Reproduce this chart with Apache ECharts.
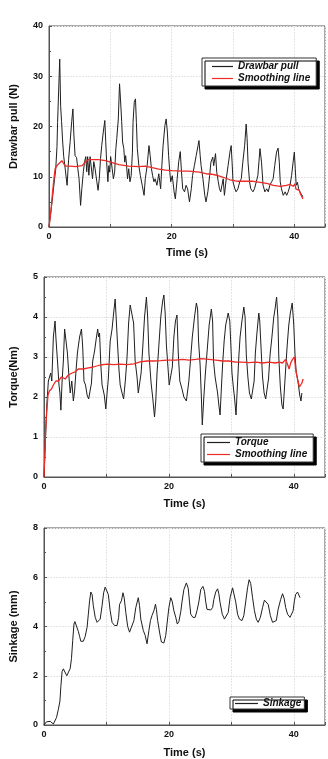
<!DOCTYPE html>
<html>
<head>
<meta charset="utf-8">
<script src="https://cdn.jsdelivr.net/npm/echarts@6/dist/echarts.min.js"></script>
<style>
html, body { margin: 0; padding: 0; background: #fff; }
#chart { width: 328px; height: 759px; }
</style>
</head>
<body>
<div id="chart"></div>
<script>
// drawbar pull (N) vs time (s)
var pullTime = [0, 0.5, 0.9, 1.1, 1.3, 1.4, 1.55, 1.75, 1.9, 2.05, 2.2, 2.4, 2.65, 2.95, 3.2, 3.45, 3.7, 3.9, 4.05, 4.25,
    4.5, 4.7, 4.9, 5.15, 5.35, 5.6, 5.8, 6.0, 6.15, 6.3, 6.5, 6.7, 6.9, 7.1, 7.3, 7.5, 7.8, 8.0, 8.2, 8.4,
    8.6, 8.85, 9.1, 9.25, 9.4, 9.6, 9.75, 9.9, 10.05, 10.3, 10.5, 10.7, 10.9, 11.05, 11.3, 11.5, 11.65, 11.85, 12.0, 12.2,
    12.35, 12.5, 12.65, 12.8, 13.0, 13.2, 13.4, 13.6, 13.7, 13.9, 14.1, 14.25, 14.4, 14.65, 14.9, 15.2, 15.5, 15.7, 16.0, 16.3,
    16.5, 16.7, 16.9, 17.1, 17.3, 17.6, 17.9, 18.2, 18.4, 18.6, 18.9, 19.1, 19.3, 19.5, 19.7, 19.85, 20.1, 20.4, 20.6, 20.9,
    21.15, 21.4, 21.6, 21.8, 22.1, 22.35, 22.6, 22.9, 23.2, 23.4, 23.7, 24.0, 24.3, 24.45, 24.65, 24.8, 25.1, 25.4, 25.6, 25.9,
    26.2, 26.4, 26.7, 26.85, 27.15, 27.35, 27.6, 27.8, 28.0, 28.2, 28.4, 28.6, 28.9, 29.2, 29.5, 29.7, 29.85, 30.0, 30.3, 30.5,
    30.8, 31.1, 31.35, 31.6, 31.9, 32.15, 32.3, 32.45, 32.7, 32.9, 33.25, 33.5, 33.8, 34.05, 34.4, 34.65, 34.9, 35.2, 35.5, 35.75,
    36.0, 36.3, 36.55, 36.8, 37.1, 37.35, 37.55, 37.7, 37.9, 38.2, 38.5, 38.75, 39.0, 39.3, 39.55, 39.8, 40.0, 40.15, 40.3, 40.5,
    40.7, 40.9, 41.1, 41.4];
var pullValue = [0, 5, 9.5, 11.5, 16, 20.8, 21, 33.4, 24, 21, 17.5, 14, 11.5, 8.3, 13.5, 17, 21, 23.5, 18.5, 14.2,
    13.8, 11.6, 9.6, 4.3, 7.6, 11, 13, 14, 11, 14, 10.3, 14, 14.3, 9.6, 13, 11.7, 9, 7.3, 9.6, 13.6,
    16.2, 18.9, 21.2, 17, 12.9, 9, 12.2, 10.9, 14, 11.6, 9.6, 10.9, 15.6, 17.6, 21.5, 28.5, 25.5, 21, 16.9, 15.6,
    12.9, 14.2, 12.2, 9.6, 11.6, 9, 10.2, 14.9, 20.8, 24.8, 25.5, 20.8, 15.6, 12.2, 10.2, 8.3, 6.3, 9.6, 12.2, 16.2,
    14.2, 11.6, 10.2, 9, 9.6, 8.3, 10.6, 7.6, 12.2, 16.2, 20.2, 21.5, 18.9, 14.2, 10.9, 9, 10.2, 7, 5.6, 9.6,
    13, 15, 11, 7.6, 7, 8.3, 7.6, 5, 7.6, 10.2, 12.2, 14.2, 16.2, 17.2, 14.2, 12.2, 9.6, 6.3, 5, 7,
    10.3, 12.9, 13.9, 12.2, 14.6, 10.9, 9, 7.6, 7, 8.3, 9.6, 6.3, 9.6, 12.2, 14.9, 16.2, 12.9, 9, 7.6, 7,
    7.6, 9, 9.6, 12.9, 16.2, 20.5, 17.6, 12.9, 9, 7.6, 7, 7.6, 9, 10.2, 15.6, 12.9, 8.3, 7, 7.6, 7,
    8.3, 9, 9.6, 12.2, 14.9, 15.7, 12.9, 9, 7.6, 6.3, 7, 6.3, 7, 8.3, 10.2, 12.9, 14.9, 11.6, 8.3, 8.9,
    7.6, 7, 6.6, 6.0];
var pullSmoothTime = [0, 0.3, 0.55, 0.75, 1.0, 1.3, 1.6, 2.1, 2.4, 2.7, 3.4, 4.3, 5.4, 5.9, 6.4, 7.0, 8.1, 9.2, 10.3, 11.4,
    13.0, 14.6, 15.7, 16.8, 17.9, 19.0, 20.1, 21.7, 22.9, 24.5, 25.6, 26.5, 27.3, 28.4, 29.5, 30.8, 32.2, 33.3, 34.4, 35.5,
    36.6, 37.7, 38.7, 39.3, 39.8, 40.1, 40.25, 40.5, 40.8, 41.0, 41.4];
var pullSmoothValue = [0, 3, 6.5, 9, 11.6, 12.2, 12.6, 13.2, 12.6, 12.1, 12.1, 12.0, 12.2, 12.9, 13.4, 13.4, 13.4, 13.2, 12.8, 12.4,
    12.1, 12.0, 12.1, 11.8, 11.5, 11.3, 11.2, 11.1, 11.1, 10.9, 10.6, 10.5, 10.3, 9.9, 9.4, 9.1, 9.1, 9.1, 8.9, 8.7,
    8.3, 8.1, 8.3, 8.5, 8.1, 8.6, 7.6, 7.9, 7.3, 6.6, 5.6];

// torque (Nm) vs time (s)
var torqueTime = [0, 0.2, 0.45, 0.7, 0.9, 1.07, 1.25, 1.5, 1.77, 1.9, 2.05, 2.2, 2.4, 2.55, 2.7, 2.9, 3.1, 3.3, 3.55, 3.75,
    4.0, 4.2, 4.45, 4.7, 4.9, 5.1, 5.35, 5.7, 6.0, 6.2, 6.4, 6.65, 6.9, 7.15, 7.4, 7.6, 7.8, 8.1, 8.4, 8.6,
    8.75, 8.9, 9.1, 9.3, 9.65, 9.9, 10.1, 10.3, 10.6, 10.9, 11.15, 11.4, 11.55, 11.75, 12.0, 12.2, 12.5, 12.75, 13.05, 13.3,
    13.55, 13.8, 14.1, 14.35, 14.6, 14.9, 15.1, 15.3, 15.55, 15.8, 16.1, 16.4, 16.6, 16.8, 17.15, 17.4, 17.7, 17.9, 18.1, 18.4,
    18.7, 19.0, 19.2, 19.4, 19.6, 19.85, 20.05, 20.3, 20.55, 20.8, 21.05, 21.3, 21.5, 21.75, 22.1, 22.4, 22.8, 23.2, 23.5, 23.75,
    24.1, 24.4, 24.6, 24.75, 25.0, 25.2, 25.35, 25.6, 25.85, 26.1, 26.45, 26.8, 27.0, 27.15, 27.4, 27.8, 28.0, 28.2, 28.4, 28.6,
    28.85, 29.1, 29.5, 29.75, 29.95, 30.1, 30.35, 30.5, 30.75, 30.95, 31.2, 31.4, 31.7, 32.0, 32.2, 32.4, 32.65, 32.9, 33.2, 33.45,
    33.65, 33.85, 34.1, 34.4, 34.55, 34.8, 35.0, 35.25, 35.5, 35.75, 35.95, 36.2, 36.5, 36.8, 37.0, 37.25, 37.45, 37.6, 37.85, 38.1,
    38.3, 38.5, 38.7, 38.95, 39.2, 39.45, 39.75, 40.0, 40.2, 40.4, 40.55, 40.75, 40.95, 41.15, 41.3];
var torqueValue = [0, 0.8, 1.8, 2.4, 2.45, 2.6, 2.4, 3.5, 3.9, 3.5, 3.5, 2.8, 2.3, 2.1, 1.67, 2.4, 2.9, 3.7, 3.75, 3.1,
    2.5, 2.1, 2.4, 1.9, 2.15, 2.6, 3.1, 3.5, 3.7, 3.25, 2.4, 2.3, 2.05, 1.95, 1.9, 2.35, 2.9, 3.15, 3.5, 3.7,
    3.5, 3.6, 2.8, 2.3, 2.05, 1.7, 2.1, 2.45, 3.4, 3.7, 4.1, 4.45, 4.0, 3.4, 2.7, 2.3, 2.1, 1.95, 2.45, 3.0,
    3.85, 4.3, 4.35, 3.85, 2.9, 2.5, 2.1, 2.05, 2.6, 3.2, 4.0, 4.5, 4.0, 3.1, 2.35, 2.0, 1.5, 1.9, 2.6, 3.3,
    4.0, 4.4, 4.55, 4.1, 3.3, 2.75, 2.3, 2.35, 2.75, 3.5, 3.9, 4.05, 3.1, 2.4, 2.2, 2.0, 1.9, 2.4, 3.0, 3.5,
    4.0, 4.35, 4.2, 3.4, 2.8, 2.0, 1.3, 2.0, 2.6, 3.1, 3.8, 4.2, 3.9, 2.9, 2.5, 2.1, 1.8, 1.55, 2.2, 2.8,
    3.4, 3.8, 4.1, 3.9, 3.2, 2.6, 2.2, 2.0, 1.55, 2.2, 3.0, 3.5, 3.9, 4.25, 4.0, 3.05, 2.5, 2.1, 1.95, 2.0,
    2.4, 3.1, 3.6, 4.1, 3.9, 3.1, 2.5, 2.1, 1.95, 2.0, 2.45, 3.05, 3.5, 4.0, 4.2, 4.5, 4.0, 3.0, 2.25, 1.8,
    1.7, 2.2, 2.7, 3.3, 3.8, 4.1, 4.35, 3.8, 3.05, 2.6, 2.5, 2.3, 2.05, 1.9, 2.1];
var torqueSmoothTime = [0, 0.1, 0.27, 0.43, 0.64, 0.86, 1.2, 1.5, 1.9, 2.3, 2.8, 3.4, 3.9, 4.5, 5.0, 5.5, 6.3, 7.1, 7.9, 9.0,
    10.1, 11.2, 12.2, 13.3, 14.4, 15.4, 16.5, 17.6, 18.7, 19.7, 21.1, 22.2, 23.2, 24.3, 25.3, 26.4, 27.5, 28.6, 29.6, 30.7,
    31.8, 32.8, 33.9, 35.0, 36.0, 37.1, 37.6, 38.2, 38.7, 39.0, 39.25, 39.55, 39.8, 40.1, 40.3, 40.6, 40.9, 41.1, 41.3, 41.5];
var torqueSmoothValue = [0, 0.45, 1.2, 1.6, 2.05, 2.15, 2.2, 2.3, 2.4, 2.4, 2.5, 2.45, 2.55, 2.6, 2.63, 2.7, 2.7, 2.73, 2.75, 2.8,
    2.82, 2.81, 2.82, 2.81, 2.83, 2.88, 2.9, 2.9, 2.91, 2.92, 2.92, 2.94, 2.92, 2.94, 2.96, 2.94, 2.92, 2.9, 2.9, 2.87,
    2.87, 2.86, 2.87, 2.85, 2.87, 2.85, 2.87, 2.85, 2.94, 2.82, 2.7, 2.87, 2.94, 3.0, 2.7, 2.45, 2.25, 2.2, 2.35, 2.45];

// sinkage (mm) vs time (s)
var sinkTime = [0, 0.4, 0.7, 1.0, 1.2, 1.5, 1.75, 2.0, 2.3, 2.55, 2.7, 2.9, 3.1, 3.35, 3.65, 3.95, 4.2, 4.4, 4.6, 4.8,
    4.95, 5.25, 5.5, 5.7, 5.9, 6.3, 6.6, 6.9, 7.1, 7.3, 7.5, 7.7, 7.9, 8.2, 8.5, 8.75, 9.0, 9.3, 9.55, 9.8,
    10.05, 10.3, 10.6, 10.9, 11.3, 11.7, 11.95, 12.1, 12.4, 12.65, 12.85, 13.1, 13.4, 13.7, 14.0, 14.4, 14.7, 15.1, 15.3, 15.5,
    15.9, 16.2, 16.5, 16.8, 17.05, 17.3, 17.6, 17.85, 18.0, 18.2, 18.55, 18.8, 19.2, 19.5, 19.7, 20.0, 20.3, 20.55, 20.8, 21.1,
    21.35, 21.6, 21.9, 22.1, 22.4, 22.8, 23.1, 23.3, 23.5, 23.85, 24.2, 24.5, 24.8, 25.1, 25.45, 25.7, 25.9, 26.1, 26.4, 26.7,
    27.0, 27.2, 27.5, 27.8, 28.0, 28.2, 28.55, 28.9, 29.2, 29.5, 29.8, 30.2, 30.5, 30.7, 31.0, 31.3, 31.7, 32.0, 32.3, 32.6,
    32.85, 33.1, 33.4, 33.7, 34.0, 34.3, 34.65, 35.0, 35.3, 35.6, 35.9, 36.25, 36.6, 36.9, 37.2, 37.5, 37.9, 38.2, 38.45, 38.7,
    39.0, 39.4, 39.7, 39.9, 40.1, 40.3, 40.6, 40.8, 41.0];
var sinkValue = [0, 0.13, 0.17, 0.15, 0.08, 0.04, 0.1, 0.3, 0.64, 0.97, 1.57, 2.17, 2.28, 2.2, 2.0, 2.05, 2.3, 2.7, 3.44, 4.1,
    4.2, 4.2, 3.8, 3.6, 3.4, 3.4, 3.6, 3.97, 4.5, 5.04, 5.4, 5.3, 4.84, 4.37, 4.17, 4.1, 4.3, 4.84, 5.37, 5.6,
    5.57, 5.3, 4.64, 4.17, 4.04, 4.04, 4.37, 4.9, 5.04, 5.37, 5.15, 4.57, 4.0, 3.77, 3.85, 4.24, 4.77, 5.17, 4.85, 4.3,
    3.84, 3.64, 3.3, 3.84, 4.24, 4.45, 4.64, 4.9, 4.7, 4.24, 3.7, 3.37, 3.33, 3.64, 4.1, 4.77, 5.17, 5.0, 4.64, 4.37,
    4.1, 4.2, 4.6, 5.0, 5.5, 5.77, 5.55, 5.0, 4.5, 4.37, 4.37, 4.64, 5.0, 5.5, 5.63, 5.43, 5.0, 4.7, 4.64, 4.67,
    4.77, 5.1, 5.4, 5.53, 5.33, 4.97, 4.5, 4.3, 4.3, 4.57, 5.17, 5.57, 5.5, 5.0, 4.5, 4.3, 4.24, 4.44, 5.0, 5.57,
    5.9, 5.75, 5.17, 4.64, 4.3, 4.17, 4.37, 4.77, 5.07, 5.15, 4.9, 4.44, 4.17, 4.1, 4.24, 4.7, 5.1, 5.33, 5.15, 4.77,
    4.5, 4.37, 4.44, 4.64, 5.04, 5.3, 5.4, 5.35, 5.17];

var font = 'Arial, "Liberation Sans", sans-serif';
var black = '#1f1f1f';
var red = '#ec2a26';

function pairs(t, v) {
    return t.map(function (x, i) { return [x, v[i]]; });
}

function xAxis(idx, gap) {
    return {
        type: 'value', gridIndex: idx, min: 0, max: 45, interval: 20,
        name: 'Time (s)', nameLocation: 'middle', nameGap: gap,
        nameTextStyle: { fontFamily: font, fontWeight: 'bold', fontSize: 11, color: '#111' },
        axisLine: { show: true, onZero: false, lineStyle: { color: '#555' } },
        axisTick: { inside: true, length: 3, lineStyle: { color: '#555' } },
        minorTick: { show: true, splitNumber: 2, length: 3, lineStyle: { color: '#555' } },
        axisLabel: { fontFamily: font, fontWeight: 'bold', fontSize: 9, color: '#111', margin: 5, showMaxLabel: false },
        splitLine: { show: true, lineStyle: { color: '#e4e4e4', type: [2, 1] } },
        minorSplitLine: { show: true, lineStyle: { color: '#e4e4e4', type: [2, 1] } }
    };
}

function yAxis(idx, max, interval, name, gap) {
    return {
        type: 'value', gridIndex: idx, min: 0, max: max, interval: interval,
        name: name, nameLocation: 'middle', nameGap: gap,
        nameTextStyle: { fontFamily: font, fontWeight: 'bold', fontSize: 11, color: '#111' },
        axisLine: { show: true, onZero: false, lineStyle: { color: '#555' } },
        axisTick: { inside: true, length: 3, lineStyle: { color: '#555' } },
        minorTick: { show: true, splitNumber: 2, length: 2, lineStyle: { color: '#555' } },
        axisLabel: { fontFamily: font, fontWeight: 'bold', fontSize: 9, color: '#111', margin: 6 },
        splitLine: { show: true, lineStyle: { color: '#e4e4e4', type: [2, 1] } }
    };
}

// boxed legend with a hard black drop shadow; a flat rect stands in for the line icon
function legend(names, left, top, pad, itemWidth) {
    return {
        data: names, orient: 'vertical', left: left, top: top,
        icon: 'rect', itemWidth: itemWidth, itemHeight: 1.2,
        padding: pad, itemGap: 1,
        backgroundColor: '#fff', borderColor: '#333', borderWidth: 1,
        shadowColor: '#000', shadowBlur: 0, shadowOffsetX: 3, shadowOffsetY: 3,
        selectedMode: false,
        textStyle: { fontFamily: font, fontWeight: 'bold', fontStyle: 'italic', fontSize: 10, color: '#111', lineHeight: 11 }
    };
}

function line(name, idx, data, color, width) {
    return {
        type: 'line', name: name, xAxisIndex: idx, yAxisIndex: idx,
        data: data, symbol: 'none', animation: false,
        lineStyle: { color: color, width: width }, itemStyle: { color: color }
    };
}

var myChart = echarts.init(document.getElementById('chart'));
var option = {
    backgroundColor: '#fff',
    animation: false,
    grid: [
        { left: 49, top: 26, width: 276, height: 201, show: true, borderColor: '#555', borderWidth: 1 },
        { left: 44, top: 277, width: 281, height: 200, show: true, borderColor: '#555', borderWidth: 1 },
        { left: 44, top: 528, width: 281, height: 200, show: true, borderColor: '#555', borderWidth: 1 }
    ],
    xAxis: [xAxis(0, 20), xAxis(1, 21), xAxis(2, 22)],
    yAxis: [
        yAxis(0, 40, 10, 'Drawbar pull (N)', 30),
        yAxis(1, 5, 1, 'Torque(Nm)', 25),
        yAxis(2, 8, 2, 'Sinkage (mm)', 25)
    ],
    legend: [
        legend(['Drawbar pull', 'Smoothing line'], 202, 58, [3, 6, 2, 10], 21),
        legend(['Torque', 'Smoothing line'], 201, 434, [3, 6, 2, 6], 23),
        legend(['Sinkage'], 230, 697, [1, 3, 0, 5], 23)
    ],
    series: [
        line('Drawbar pull', 0, pairs(pullTime, pullValue), black, 1),
        line('Smoothing line', 0, pairs(pullSmoothTime, pullSmoothValue), red, 1.3),
        line('Torque', 1, pairs(torqueTime, torqueValue), black, 1),
        line('Smoothing line', 1, pairs(torqueSmoothTime, torqueSmoothValue), red, 1.3),
        line('Sinkage', 2, pairs(sinkTime, sinkValue), black, 1)
    ]
};
myChart.setOption(option);
</script>
</body>
</html>
